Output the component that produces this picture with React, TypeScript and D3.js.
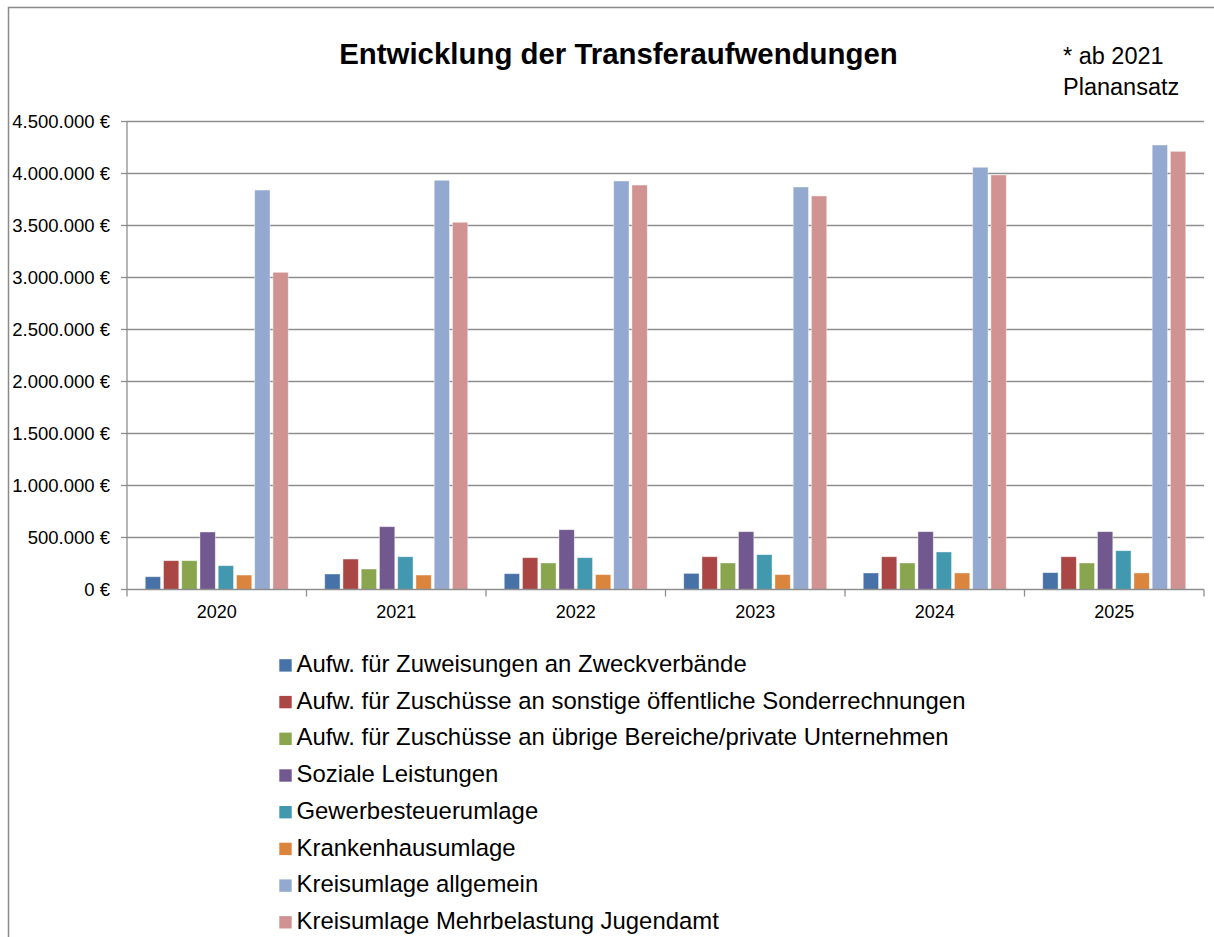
import React from "react";
import * as d3 from "d3";

const years = ["2020", "2021", "2022", "2023", "2024", "2025"];
const seriesNames = [
  "Aufw. für Zuweisungen an Zweckverbände",
  "Aufw. für Zuschüsse an sonstige öffentliche Sonderrechnungen",
  "Aufw. für Zuschüsse an übrige Bereiche/private Unternehmen",
  "Soziale Leistungen",
  "Gewerbesteuerumlage",
  "Krankenhausumlage",
  "Kreisumlage allgemein",
  "Kreisumlage Mehrbelastung Jugendamt",
];
const zweckverbaende = [123000, 149000, 152000, 155000, 159000, 162000];
const sonderrechnungen = [277000, 293000, 306000, 315000, 315000, 315000];
const uebrigeBereiche = [277000, 197000, 255000, 255000, 255000, 255000];
const sozialeLeistungen = [553000, 604000, 575000, 556000, 556000, 556000];
const gewerbesteuerumlage = [229000, 315000, 306000, 335000, 361000, 373000];
const krankenhausumlage = [139000, 139000, 143000, 143000, 159000, 159000];
const kreisumlageAllgemein = [3841000, 3935000, 3928000, 3870000, 4060000, 4274000];
const kreisumlageJugendamt = [3050000, 3531000, 3889000, 3784000, 3986000, 4213000];
const seriesValues = [
  zweckverbaende,
  sonderrechnungen,
  uebrigeBereiche,
  sozialeLeistungen,
  gewerbesteuerumlage,
  krankenhausumlage,
  kreisumlageAllgemein,
  kreisumlageJugendamt,
];
const colors = ["#4672A8", "#AA4644", "#89A54E", "#71588F", "#4198AF", "#DB843D", "#93A9CF", "#D19392"];
const yTicks = [0, 500000, 1000000, 1500000, 2000000, 2500000, 3000000, 3500000, 4000000, 4500000];

const fmt = (v: number) => {
  const s = d3.format(",")(v).replace(/,/g, ".");
  return s + " €";
};

export default function App() {
  const left = 127;
  const right = 1204;
  const top = 121.5;
  const bottom = 589.5;
  const x0 = d3.scaleBand<string>().domain(years).range([left, right]).padding(0);
  const x1 = d3
    .scaleBand<number>()
    .domain(d3.range(seriesNames.length))
    .range([0, x0.bandwidth()])
    .paddingInner(0.16)
    .paddingOuter(1.0);
  const y = d3.scaleLinear().domain([0, 4500000]).range([bottom, top]);
  const font = "'Liberation Sans', Arial, sans-serif";
  const gridColor = "#8e8e8e";
  const boundaries = years.map((yr) => x0(yr) as number).concat([right]);

  return (
    <svg
      width={1214}
      height={937}
      style={{ position: "absolute", left: 0, top: 0, background: "#fff" }}
      fontFamily={font}
    >
      <rect x={0} y={0} width={1214} height={937} fill="#fff" />
      <rect x={8.5} y={7.5} width={1220} height={1000} fill="none" stroke="#8a8a8a" strokeWidth={1.5} />
      <text x={618.5} y={64} textAnchor="middle" fontSize={29.4} fontWeight="bold" fill="#000">
        Entwicklung der Transferaufwendungen
      </text>
      <text x={1063} y={64} fontSize={23.5} fill="#000">* ab 2021</text>
      <text x={1063} y={95} fontSize={23.5} fill="#000">Planansatz</text>

      {yTicks.map((t) => (
        <g key={t}>
          {t > 0 && (
            <line x1={left} x2={right} y1={y(t)} y2={y(t)} stroke={gridColor} strokeWidth={1.3} />
          )}
          <line x1={left - 6} x2={left} y1={y(t)} y2={y(t)} stroke={gridColor} strokeWidth={1.3} />
          <text x={110} y={y(t) + 6.5} textAnchor="end" fontSize={18.5} fill="#000">
            {fmt(t)}
          </text>
        </g>
      ))}

      {seriesValues.map((vals, si) =>
        vals.map((v, yi) => (
          <rect
            key={si + "-" + yi}
            x={(x0(years[yi]) as number) + (x1(si) as number)}
            y={y(v)}
            width={x1.bandwidth()}
            height={bottom - y(v)}
            fill={colors[si]}
            stroke="#ffffff"
            strokeOpacity={0.5}
            strokeWidth={0.8}
          />
        ))
      )}

      <line x1={left} x2={left} y1={top} y2={bottom} stroke={gridColor} strokeWidth={1.3} />
      <line x1={left} x2={right} y1={bottom} y2={bottom} stroke={gridColor} strokeWidth={1.3} />
      {boundaries.map((b, i) => (
        <line key={i} x1={b} x2={b} y1={bottom} y2={bottom + 7} stroke={gridColor} strokeWidth={1.3} />
      ))}
      {years.map((yr) => (
        <text
          key={yr}
          x={(x0(yr) as number) + x0.bandwidth() / 2}
          y={618}
          textAnchor="middle"
          fontSize={18}
          fill="#000"
        >
          {yr}
        </text>
      ))}

      {seriesNames.map((name, i) => {
        const base = 672 + i * 36.7;
        return (
          <g key={name}>
            <rect x={279.3} y={base - 12.8} width={12.4} height={12.4} fill={colors[i]} />
            <text x={296.5} y={base} fontSize={23.9} fill="#000">
              {name}
            </text>
          </g>
        );
      })}
    </svg>
  );
}
